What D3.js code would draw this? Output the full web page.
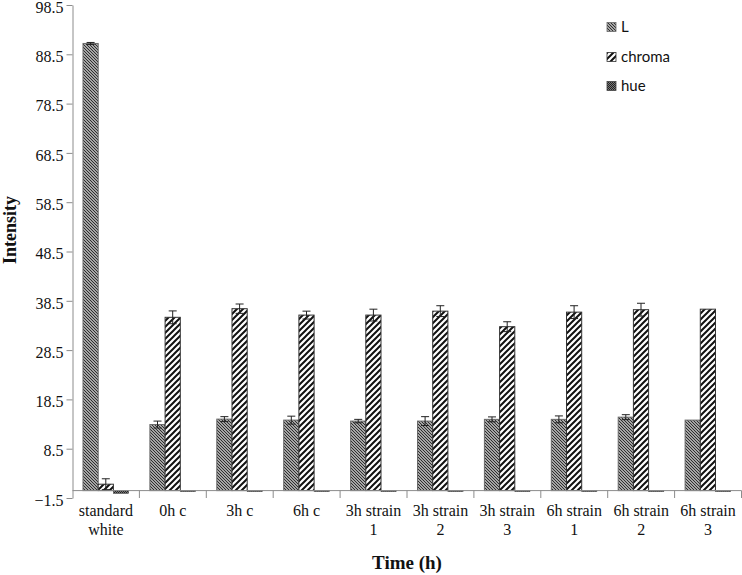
<!DOCTYPE html>
<html>
<head>
<meta charset="utf-8">
<script src="https://cdn.jsdelivr.net/npm/d3@7"></script>
<style>
  html, body { margin: 0; padding: 0; background: #fff; }
  svg { display: block; }
</style>
</head>
<body>
<svg id="chart" width="742" height="575"></svg>
<script>
const categories = ["standard white", "0h c", "3h c", "6h c", "3h strain 1", "3h strain 2", "3h strain 3", "6h strain 1", "6h strain 2", "6h strain 3"];
const categoryLines = [["standard", "white"], ["0h c"], ["3h c"], ["6h c"], ["3h strain", "1"], ["3h strain", "2"], ["3h strain", "3"], ["6h strain", "1"], ["6h strain", "2"], ["6h strain", "3"]];
const seriesNames = ["L", "chroma", "hue"];
const valuesL      = [90.7, 13.4, 14.5, 14.3, 14.1, 14.1, 14.45, 14.45, 14.9, 14.3];
const errorsL      = [0.2, 0.7, 0.5, 0.8, 0.35, 0.9, 0.5, 0.7, 0.5, 0];
const valuesChroma = [1.3, 35.15, 36.9, 35.6, 35.6, 36.4, 33.25, 36.2, 36.7, 36.8];
const errorsChroma = [1.1, 1.3, 0.95, 0.8, 1.2, 1.1, 1.0, 1.3, 1.3, 0];
const valuesHue    = [-0.55, -0.2, -0.2, -0.2, -0.2, -0.2, -0.2, -0.2, -0.2, -0.2];
const errorsHue    = [0, 0, 0, 0, 0, 0, 0, 0, 0, 0];
const yTicks = [-1.5, 8.5, 18.5, 28.5, 38.5, 48.5, 58.5, 68.5, 78.5, 88.5, 98.5];

const seriesValues = [valuesL, valuesChroma, valuesHue];
const seriesErrors = [errorsL, errorsChroma, errorsHue];
const fills = ["url(#patL)", "url(#patChroma)", "url(#patHue)"];
const strokes = ["#6a6a6a", "#333", "#444"];

const svg = d3.select("#chart");
const defs = svg.append("defs");

// L pattern: fine downward diagonal
const pL = defs.append("pattern").attr("id", "patL").attr("patternUnits", "userSpaceOnUse")
  .attr("width", 3).attr("height", 3);
pL.append("rect").attr("width", 3).attr("height", 3).attr("fill", "#d8d8d8");
pL.append("path").attr("d", "M-1,-1 L4,4 M-1,2 L1,4 M2,-1 L4,1").attr("stroke", "#262626").attr("stroke-width", 1.1);

// chroma pattern: wide upward diagonal
const pC = defs.append("pattern").attr("id", "patChroma").attr("patternUnits", "userSpaceOnUse")
  .attr("width", 6).attr("height", 6);
pC.append("rect").attr("width", 6).attr("height", 6).attr("fill", "#fff");
pC.append("path").attr("d", "M-1,7 L7,-1 M-4,4 L4,-4 M2,10 L10,2").attr("stroke", "#111").attr("stroke-width", 2);

// hue pattern: dark dotted grid
const pH = defs.append("pattern").attr("id", "patHue").attr("patternUnits", "userSpaceOnUse")
  .attr("width", 2).attr("height", 2);
pH.append("rect").attr("width", 2).attr("height", 2).attr("fill", "#777");
pH.append("rect").attr("width", 1).attr("height", 1).attr("fill", "#222");
pH.append("rect").attr("x", 1).attr("y", 1).attr("width", 1).attr("height", 1).attr("fill", "#222");

const y = d3.scaleLinear().domain([-1.5, 98.5]).range([498, 5]);
const x = d3.scaleBand().domain(categories).range([72.5, 741.5]).padding(0);
const xs = d3.scaleBand().domain(seriesNames).range([10.5, 56.1]).padding(0);

const axisColor = "#8c8c8c";

// Y axis
const yAxis = svg.append("g").attr("transform", "translate(72.5,0)")
  .call(d3.axisLeft(y).tickValues(yTicks).tickFormat(d3.format(".1f")).tickSize(6).tickSizeOuter(0));
yAxis.select(".domain").attr("stroke", axisColor);
yAxis.selectAll(".tick line").attr("stroke", axisColor);
yAxis.selectAll(".tick text").attr("font-family", "'Liberation Serif', 'Times New Roman', serif")
  .attr("font-size", 16).attr("fill", "#111").attr("x", -9).attr("dy", "0.45em");

// Bars
const groups = svg.append("g");
seriesNames.forEach((s, si) => {
  const vals = seriesValues[si];
  groups.selectAll(".bar-" + si).data(categories).enter().append("rect")
    .attr("x", d => x(d) + xs(s))
    .attr("width", xs.bandwidth())
    .attr("y", (d, i) => Math.min(y(vals[i]), y(0)))
    .attr("height", (d, i) => Math.max(Math.abs(y(vals[i]) - y(0)), 0.8))
    .attr("fill", fills[si])
    .attr("stroke", strokes[si])
    .attr("stroke-width", si === 2 ? 0.6 : 1);
});

// X axis line at zero
svg.append("line").attr("x1", 72.5).attr("x2", 741.5).attr("y1", y(0)).attr("y2", y(0))
  .attr("stroke", axisColor).attr("stroke-width", 1);
const boundaries = categories.map(c => x(c)).concat([x(categories[categories.length - 1]) + x.bandwidth()]);
svg.selectAll(".xtick").data(boundaries.slice(1)).enter().append("line")
  .attr("x1", d => d).attr("x2", d => d).attr("y1", y(0)).attr("y2", y(-1.5))
  .attr("stroke", axisColor);

// Error bars
seriesNames.forEach((s, si) => {
  const vals = seriesValues[si], errs = seriesErrors[si];
  categories.forEach((c, i) => {
    if (!errs[i]) return;
    const cx = x(c) + xs(s) + xs.bandwidth() / 2;
    const top = y(vals[i] + errs[i]), bot = y(vals[i] - errs[i]);
    const g = svg.append("g").attr("stroke", "#222").attr("stroke-width", 1);
    g.append("line").attr("x1", cx).attr("x2", cx).attr("y1", top).attr("y2", bot);
    g.append("line").attr("x1", cx - 4).attr("x2", cx + 4).attr("y1", top).attr("y2", top);
    g.append("line").attr("x1", cx - 4).attr("x2", cx + 4).attr("y1", bot).attr("y2", bot);
  });
});

// X labels
const xl = svg.append("g").attr("font-family", "'Liberation Serif', 'Times New Roman', serif")
  .attr("font-size", 16).attr("fill", "#111").attr("text-anchor", "middle");
categories.forEach((c, i) => {
  const t = xl.append("text").attr("x", x(c) + x.bandwidth() / 2).attr("y", 516);
  categoryLines[i].forEach((ln, li) => {
    t.append("tspan").attr("x", x(c) + x.bandwidth() / 2).attr("y", 516 + li * 19).text(ln);
  });
});

// Axis titles
svg.append("text").attr("x", 407).attr("y", 569).attr("text-anchor", "middle")
  .attr("font-family", "'Liberation Serif', 'Times New Roman', serif").attr("font-weight", "bold")
  .attr("font-size", 19).attr("fill", "#111").text("Time (h)");
svg.append("text").attr("transform", "translate(16,230) rotate(-90)").attr("text-anchor", "middle")
  .attr("font-family", "'Liberation Serif', 'Times New Roman', serif").attr("font-weight", "bold")
  .attr("font-size", 18).attr("fill", "#111").text("Intensity");

// Legend
const legY = [27, 57, 86];
const leg = svg.append("g");
seriesNames.forEach((s, si) => {
  leg.append("rect").attr("x", 607).attr("y", legY[si] - 4.5).attr("width", 9).attr("height", 9)
    .attr("fill", fills[si]).attr("stroke", strokes[si]).attr("stroke-width", 0.8);
  leg.append("text").attr("x", 621).attr("y", legY[si] + 5)
    .attr("font-family", "Lato, 'Liberation Sans', sans-serif").attr("font-size", 15).attr("fill", "#111")
    .text(s);
});
</script>
</body>
</html>
